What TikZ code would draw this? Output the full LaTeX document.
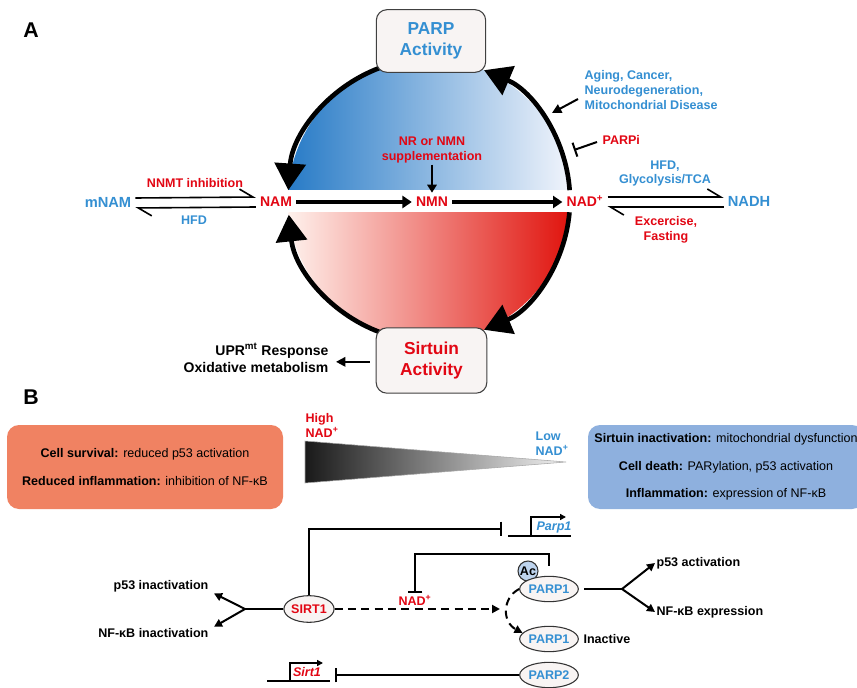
\documentclass[tikz,border=0pt]{standalone}
\usepackage{fontspec}
\setmainfont{Liberation Sans}
\usetikzlibrary{arrows.meta,shapes.geometric}
\definecolor{tblue}{RGB}{52,143,210}
\definecolor{tred}{RGB}{226,6,19}
\definecolor{gblue}{RGB}{38,122,198}
\definecolor{gwhite}{RGB}{242,245,252}
\definecolor{gred}{RGB}{224,18,12}
\definecolor{gpink}{RGB}{255,243,238}
\definecolor{boxfill}{RGB}{248,244,243}
\definecolor{orbox}{RGB}{240,130,98}
\definecolor{blbox}{RGB}{142,176,222}
\definecolor{acfill}{RGB}{190,212,238}
\begin{document}
\begin{tikzpicture}[x=0.75pt,y=-0.75pt,
  lab/.style={font=\bfseries\fontsize{9.4}{11.25}\selectfont, inner sep=1pt, align=center},
  bl/.style={text=tblue}, rd/.style={text=tred},
  act/.style={draw=black!75, fill=boxfill, rounded corners=8pt, line width=0.8pt, minimum width=82pt, minimum height=47pt, align=center, font=\bfseries\fontsize{13}{15.75}\selectfont},
  cyc/.style={line width=3.5pt, -{Triangle[length=20pt,width=23pt]}},
  flow/.style={line width=3pt, -{Triangle[length=7pt,width=9pt]}},
  eqa/.style={line width=1.2pt, -{Straight Barb[harpoon,length=10pt,width=12pt]}},
  met/.style={font=\bfseries\fontsize{10.5}{12}\selectfont, inner sep=3pt, text height=7.5pt, text depth=0pt},
  prot/.style={ellipse, draw=black!80, fill=boxfill, line width=0.8pt, minimum width=44pt, minimum height=19pt, inner sep=0pt, font=\bfseries\fontsize{9.4}{11}\selectfont},
  ln/.style={line width=1.5pt},
  arr/.style={line width=1.5pt, -{Triangle[length=6pt,width=6pt]}},
  inh/.style={line width=1.5pt, -{Bar[width=11pt]}},
  dsh/.style={line width=1.5pt, dash pattern=on 6pt off 4pt, -{Triangle[length=6pt,width=6pt]}},
  gene/.style={line width=1.2pt},
  genetxt/.style={font=\bfseries\itshape\fontsize{9.4}{11}\selectfont, inner sep=0pt},
  bigbox/.style={rounded corners=9pt, minimum width=207pt, minimum height=63pt, align=center},
]
\useasboundingbox (0,0) rectangle (857,688);
\fill[white] (0,0) rectangle (857,688);

% ---------------- A ----------------
\node[font=\bfseries\fontsize{16}{18}\selectfont] (labA) at (31,30) {A};

\begin{scope}
  \clip (429,200) circle[radius=141];
  \shade[left color=gblue, right color=gwhite] (286,55) rectangle (572,190);
  \shade[left color=gpink, right color=gred] (286,213) rectangle (572,345);
\end{scope}

\draw[cyc] (429,200) ++(252:141) arc[start angle=252, end angle=184, radius=141];
\draw[cyc] (429,200) ++(-4:141) arc[start angle=-4, end angle=-67, radius=141];
\draw[cyc] (429,200) ++(5:141) arc[start angle=5, end angle=67, radius=141];
\draw[cyc] (429,200) ++(108:141) arc[start angle=108, end angle=174, radius=141];

\node[act, text=tblue] (parp) at (431,41) {PARP\\Activity};
\node[act, text=tred, minimum width=83pt, minimum height=49pt] (sirt) at (431.5,360.5) {Sirtuin\\Activity};

\node[met, rd] (nam) at (276,202) {NAM};
\node[met, rd] (nmn) at (432,202) {NMN};
\node[met, rd] (nad) at (585,202) {NAD\textsuperscript{+}};
\node[met, bl, font=\bfseries\fontsize{11}{12}\selectfont] (mnam) at (108,203) {mNAM};
\node[met, bl, font=\bfseries\fontsize{11}{12}\selectfont] (nadh) at (749,202) {NADH};

\draw[flow] (nam) -- (nmn);
\draw[flow] (nmn) -- (nad);

\draw[eqa] ([yshift=3.75pt]mnam.east) -- ([yshift=3.75pt]nam.west);
\draw[eqa] ([yshift=-3.75pt]nam.west) -- ([yshift=-3.75pt]mnam.east);
\draw[eqa] ([yshift=3.75pt]nad.east) -- ([yshift=3.75pt]nadh.west);
\draw[eqa] ([yshift=-3.75pt]nadh.west) -- ([yshift=-3.75pt]nad.east);

\node[lab, rd] (nnmt) at (195,183) {NNMT inhibition};
\node[lab, bl] (hfdl) at (194,220) {HFD};
\node[lab, bl, font=\bfseries\fontsize{9.4}{10.5}\selectfont] (hfdr) at (665,173) {HFD,\\Glycolysis/TCA};
\node[lab, rd] (exr) at (666,230) {Excercise,\\Fasting};

\node[lab, rd] (nr) at (432,150) {NR or NMN\\supplementation};
\draw[line width=2pt, -{Triangle[length=6pt,width=7pt]}] (nr) -- (nmn);

\node[lab, bl, align=left, anchor=west] (aging) at (583,90) {Aging, Cancer,\\Neurodegeneration,\\Mitochondrial Disease};
\coordinate (ag1) at (578,99);
\coordinate (ag2) at (552,113);
\draw[line width=1.5pt, -{Triangle[length=7pt,width=7pt]}] (ag1) -- (ag2);

\node[lab, rd, anchor=west] (parpi) at (601,140) {PARPi};
\coordinate (pi1) at (597,142);
\coordinate (pi2) at (574,150);
\draw[line width=1.5pt, -{Bar[width=11pt]}] (pi1) -- (pi2);

\node[font=\bfseries\fontsize{10.5}{12.75}\selectfont, align=right, anchor=east, inner sep=1pt] (upr) at (330,358) {UPR\textsuperscript{mt} Response\\Oxidative metabolism};
\draw[line width=1.5pt, -{Triangle[length=7pt,width=7pt]}, shorten <=4.5pt, shorten >=4.5pt] ([yshift=-1pt]sirt.west) -- ([yshift=-1pt]upr.east |- sirt.west);

% ---------------- B ----------------
\node[font=\bfseries\fontsize{16}{18}\selectfont] (labB) at (31,397) {B};

\node[bigbox, fill=orbox, font=\fontsize{9.4}{21}\selectfont] (good) at (145,467) {\textbf{Cell survival:} reduced p53 activation\\\textbf{Reduced inflammation:} inhibition of NF-κB};
\node[bigbox, fill=blbox, font=\fontsize{9.4}{20.6}\selectfont] (bad) at (726,467) {\textbf{Sirtuin inactivation:} mitochondrial dysfunction\\\textbf{Cell death:} PARylation, p53 activation\\\textbf{Inflammation:} expression of NF-κB};

\shadedraw[left color=black!90, right color=black!5, draw=black!35, line width=0.4pt] (305,441) -- (566,462) -- (305,483) -- cycle;
\node[lab, rd, align=left, anchor=west] (high) at (304,425.5) {High\\NAD\textsuperscript{+}};
\node[lab, bl, align=left, anchor=west] (low) at (534,443.5) {Low\\NAD\textsuperscript{+}};

% network
\node[prot, rd, minimum width=36pt, minimum height=20pt] (sirt1) at (309,609) {SIRT1};
\node[circle, draw=black!80, fill=acfill, line width=0.8pt, minimum size=15pt, inner sep=0pt, font=\bfseries\fontsize{9.4}{11}\selectfont] (ac) at (528,571) {Ac};
\node[prot, bl] (p1) at (549,589) {PARP1};
\node[prot, bl] (p1i) at (549,639) {PARP1};
\node[prot, bl] (p2) at (549,675) {PARP2};
\node[lab, anchor=west] (inact) at (582,639) {Inactive};

\node[lab, anchor=east] (p53i) at (210,586) {p53 inactivation};
\node[lab, anchor=east] (nfi) at (210,633) {NF-κB inactivation};
\coordinate (bl) at (245,609);
\draw[ln] (sirt1) -- (bl);
\draw[arr] (bl) -- ([xshift=3pt]p53i.south east);
\draw[arr] (bl) -- ([xshift=3pt]nfi.north east);

\node[lab, anchor=west] (p53a) at (655,563) {p53 activation};
\node[lab, anchor=west] (nfe) at (655,612) {NF-κB expression};
\coordinate (br) at (622,589);
\draw[ln, shorten <=4pt] (p1) -- (br);
\draw[arr] (br) -- (p53a.west);
\draw[arr] (br) -- (nfe.west);

% Parp1 gene
\coordinate (pgbar) at (502,529);
\draw[inh] (sirt1.north) |- (pgbar);
\coordinate (pg1) at (508,536);
\coordinate (pg2) at (571,536);
\coordinate (pgp) at (531,536);
\coordinate (pga) at (566,517);
\draw[gene] (pg1) -- (pg2);
\draw[gene, -{Triangle[length=4.5pt,width=4.5pt]}] (pgp) |- (pga);
\node[genetxt, text=tblue] (parp1g) at (554,527) {Parp1};

% NAD+ inhibition loop
\node[lab, rd] (nadb) at (415,600) {NAD\textsuperscript{+}};
\draw[inh] ([yshift=7.5pt]p1.north) -- ++(0,-12) -| (nadb.north);

% dashed
\coordinate (dtip) at (500,609);
\draw[dsh] (sirt1) -- (dtip);
\draw[dsh] (p1.west) .. controls (502,598) and (502,622) .. (p1i.167);

% PARP2 -> Sirt1
\coordinate (sgbar) at (335,675);
\draw[inh] (p2) -- (sgbar);
\coordinate (sg1) at (267,681);
\coordinate (sg2) at (330,681);
\coordinate (sgp) at (290,681);
\coordinate (sga) at (323,663);
\draw[gene] (sg1) -- (sg2);
\draw[gene, -{Triangle[length=4.5pt,width=4.5pt]}] (sgp) |- (sga);
\node[genetxt, text=tred] (sirt1g) at (307,672) {Sirt1};
\end{tikzpicture}
\end{document}
